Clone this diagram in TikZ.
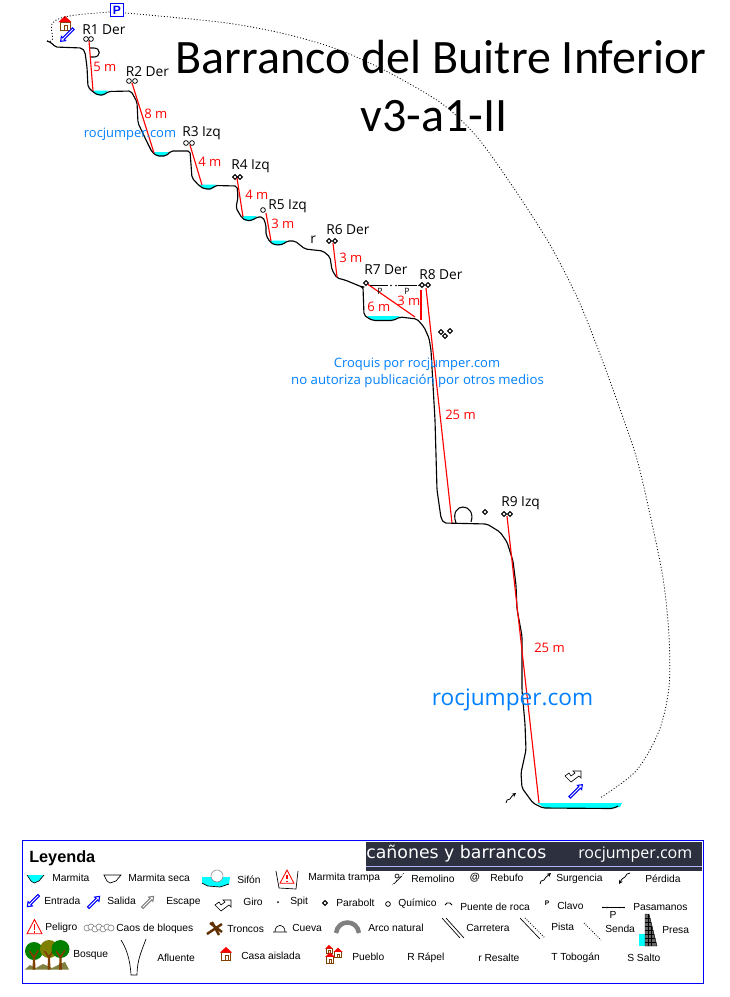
\documentclass[tikz,border=0pt]{standalone}
\usepackage{fontspec}
\setmainfont{Liberation Sans}
\newfontfamily\titlefont{Carlito}
\newfontfamily\labelfont{Open Sans}
\newfontfamily\bannerfont{DejaVu Sans}
\usetikzlibrary{arrows.meta,shapes.geometric}
\definecolor{water}{RGB}{0,255,255}
\definecolor{wmark}{RGB}{0,128,255}
\definecolor{house}{RGB}{128,64,0}
\definecolor{banner}{RGB}{45,48,62}
\definecolor{leaf}{RGB}{0,128,0}
\definecolor{leafb}{RGB}{128,128,0}
\definecolor{scrub}{RGB}{128,128,64}
\tikzset{
  wall/.style={black,line width=.85pt,rounded corners=1.5pt,line join=round},
  rap/.style={red,line width=.85pt},
  anchorc/.style={circle,draw=black,line width=.55pt,minimum size=3.6pt,inner sep=0pt},
  anchord/.style={diamond,draw=black,line width=.8pt,minimum size=3.9pt,inner sep=0pt},
  rlabel/.style={font=\labelfont\fontsize{10.3}{11}\selectfont,anchor=west,inner sep=0pt},
  mlabel/.style={font=\labelfont\fontsize{9.8}{11}\selectfont,text=red,anchor=west,inner sep=0pt},
  wm/.style={font=\labelfont,text=wmark,inner sep=0pt},
  leg/.style={font=\fontsize{7.7}{9}\selectfont,anchor=west,inner sep=0pt},
  thin1/.style={black,line width=.5pt},
  trail/.style={black,line width=.6pt,dash pattern=on .75pt off 1.5pt},
}
\newcommand{\arrowicon}[5]{% colour x y angle length
  \begin{scope}[shift={(#2,#3)},rotate=#4]
    \draw[#1,line width=.8pt,fill=white,line join=miter]
      (-#5,-1.1) -- (#5-4,-1.1) -- (#5-4,-3) -- (#5,0) -- (#5-4,3) -- (#5-4,1.1) -- (-#5,1.1) -- cycle;
  \end{scope}}
\newcommand{\giroicon}[2]{% left tip x y
  \begin{scope}[shift={(#1,#2)}]
    \draw[black,line width=.5pt,line join=miter,fill=white] (0,0) -- (4,-3) -- (6,0) -- (10,-3) -- (8,-5) -- (16,-5) -- (16,2) -- (14,0) -- (6,6) -- cycle;
  \end{scope}}
\newcommand{\houseicon}[3]{% x y scale
  \begin{scope}[shift={(#1,#2)},scale=#3]
    \draw[house,line width=.7pt,fill=white] (-5,-1.5) rectangle (5,7);
    \draw[house,line width=.6pt] (-1,7) -- (-1,1.5) -- (2.5,1.5) -- (2.5,7);
    \fill[red] (-6.5,-1.5) -- (0,-7.5) -- (6.5,-1.5) -- cycle;
  \end{scope}}
\newcommand{\treeicon}[4]{% x y-ground colour crown-centre-y
  \fill[#3] (#1,#4) ellipse (9 and 9);
  \fill[house] (#1-1.4,#2) -- (#1-1.1,#2-12) -- (#1-5,#2-18) -- (#1-4,#2-19) -- (#1,#2-14) -- (#1+4,#2-20) -- (#1+5,#2-19) -- (#1+1.1,#2-12) -- (#1+1.4,#2) -- cycle;}
\newcommand{\warnicon}[3]{% x y size
  \draw[red,line width=.65pt,fill=white,line join=miter] (#1-#3,#2+#3*.9) -- (#1,#2-#3) -- (#1+#3,#2+#3*.9) -- cycle;
  \fill[red] (#1-.9,#2-#3*.35) rectangle (#1+.9,#2+#3*.35);
  \fill[red] (#1-.9,#2+#3*.5) rectangle (#1+.9,#2+#3*.75);}
\begin{document}
\begin{tikzpicture}[x=.75pt,y=-.75pt]
\useasboundingbox (0,0) rectangle (730,997);
\fill[white] (0,0) rectangle (730,997);

% pools
\fill[water] (92,90.5) -- (108,90.5) -- (104,95) -- (97,95) -- cycle;
\fill[water] (153,152) -- (169,152) -- (165,156) -- (157,156) -- cycle;
\fill[water] (199,184.5) -- (216,184.5) -- (212,189) -- (204,189) -- cycle;
\fill[water] (241,216) -- (257,216) -- (252,220.5) -- (245,220.5) -- cycle;
\fill[water] (269,240.5) -- (287,240.5) -- (282,245) -- (274,245) -- cycle;
\fill[water] (367,316) -- (400,316) -- (393,320) -- (372,320) -- cycle;
\fill[water] (537,803) -- (622,803) -- (620,807) -- (613,808) -- (545,808) -- cycle;

% wall
\draw[wall] (47,41) -- (52,43) -- (55,47) -- (82,48) -- (85,52) -- (87,67) -- (88,87) -- (93,92)
  -- (98,95) -- (104,95) -- (108,91.5) -- (131,91) -- (137,102) -- (138,123) -- (147,142) -- (152,152)
  -- (157,156) -- (166,156) -- (171,151) -- (190,151) -- (192,178) -- (200,186.5) -- (205,189) -- (212,189) -- (215,185.5) -- (237,186)
  -- (238,197) -- (236,208) -- (242,218) -- (246,220.5) -- (252,220.5) -- (257,217) -- (263,217) -- (266,225) -- (266,235) -- (270,242)
  -- (275,245) -- (283,244.5) -- (287,241) -- (295,241) -- (305,249) -- (323,251) -- (330,257) -- (332,270) -- (337,278)
  -- (345,280) -- (362,287) -- (363,287) -- (364,315) -- (368,318) -- (373,320.5) -- (393,320.5) -- (400,317) -- (417,319) -- (424,327)
  -- (429,338) -- (431,350) -- (435,420) -- (437,490) -- (441,518) -- (444,523) -- (487,524) -- (500,532) -- (507,542) -- (513,561)
  -- (516,585) -- (517,609) -- (522,636) -- (522,690) -- (525,724) -- (526,750) -- (521,773) -- (522,788) -- (533,803) -- (543,808) -- (613,808.5) -- (618,806);
% boulders
\draw[thin1,line width=.8pt] (90,48) -- (94,48) .. controls (101,48) and (101,57) .. (94,57) -- (91,57);
\draw[thin1,line width=.8pt] (456,523) .. controls (452,512) and (458,507) .. (463,507) .. controls (469,507) and (474,513) .. (471,522);

% anchors
\node[anchorc] (a1a) at (86,39) {}; \node[anchorc] (a1b) at (91,39) {};
\node[anchorc] (a2a) at (129,81) {}; \node[anchorc] (a2b) at (135,81) {};
\node[anchorc] (a3a) at (186,143) {}; \node[anchorc] (a3b) at (192,143) {};
\node[anchord] (a4a) at (235,177) {}; \node[anchord] (a4b) at (240,177) {};
\node[anchorc] (a5) at (263,210) {};
\node[anchord] (a6a) at (329,241) {}; \node[anchord] (a6b) at (335,241) {};
\node[anchord] (a7) at (366,283) {};
\node[anchord] (a8a) at (422,285) {}; \node[anchord] (a8b) at (428,285) {};
\node[anchord] (x1) at (441,332) {}; \node[anchord] (x2) at (445,336) {}; \node[anchord] (x3) at (450,331) {};
\node[anchord] (x4) at (485,512) {};
\node[anchord] (a9a) at (504,514) {}; \node[anchord] (a9b) at (510,514) {};

% rappels
\coordinate (e1) at (93,91); \coordinate (e2) at (154,153); \coordinate (e3) at (202,185);
\coordinate (e4) at (243,217); \coordinate (e5) at (271,241); \coordinate (e6) at (337,277);
\coordinate (e7) at (415,317); \coordinate (s7) at (421,290); \coordinate (e7b) at (421,320);
\coordinate (e8) at (452,523); \coordinate (e9) at (539,803);
\draw[rap] (89,41) -- (e1);
\draw[rap] (132,83) -- (e2);
\draw[rap] (190,145) -- (e3);
\draw[rap] (237,178) -- (e4);
\draw[rap] (266,213) -- (e5);
\draw[rap] (333,243) -- (e6);
\draw[rap] (a7) -- (e7);
\draw[rap] (s7) -- (e7b);
\draw[rap] (426,288) -- (e8);
\draw[rap] (507,516) -- (e9);

% handline
\draw[black,line width=.8pt] (370,285.5) -- (388,285.5);
\draw[black,line width=.8pt] (398,285.5) -- (417,285.5);
\foreach \px in {391,396,419}{\fill (\px,285.5) circle (.8);}

% rope labels
\node[rlabel] (l1) at (82,29.5) {R1 Der};
\node[rlabel] (l2) at (125.5,71.5) {R2 Der};
\node[rlabel] (l3) at (182,133.5) {R3 Izq};
\node[rlabel] (l4) at (231,166.5) {R4 Izq};
\node[rlabel] (l5) at (268,206) {R5 Izq};
\node[rlabel] (l6) at (326,230) {R6 Der};
\node[rlabel] (l7) at (364,270) {R7 Der};
\node[rlabel] (l8) at (419,274.5) {R8 Der};
\node[rlabel] (l9) at (501,503.5) {R9 Izq};
\node[rlabel] (lr) at (310,240) {r};
\node[rlabel,font=\labelfont\fontsize{6.5}{7}\selectfont] (p1) at (377,291.5) {P};
\node[rlabel,font=\labelfont\fontsize{6.5}{7}\selectfont] (p2) at (404,291) {P};

\node[mlabel] (m1) at (93,67) {5 m};
\node[mlabel] (m2) at (144,114) {8 m};
\node[mlabel] (m3) at (198,162) {4 m};
\node[mlabel] (m4) at (245,195) {4 m};
\node[mlabel] (m5) at (271,223.5) {3 m};
\node[mlabel] (m6) at (339,258) {3 m};
\node[mlabel] (m7) at (367,307) {6 m};
\node[mlabel] (m8) at (397,301) {3 m};
\node[mlabel] (m9) at (445,415) {25 m};
\node[mlabel] (m10) at (534,648) {25 m};

% start icons, trail
\houseicon{65}{23.5}{1}
\arrowicon{blue}{67}{35}{225}{9}
\draw[trail] (47,41) .. controls (58,44) and (49,30) .. (52,24) .. controls (56,15) and (85,14) .. (110,12);
\draw[trail] plot[smooth] coordinates {(125,13) (159,16) (227,23) (281,33) (334,48) (384,70) (441,103) (477,137) (513,187) (549,243) (577,297) (595,341) (615,395) (636,456) (649,510) (663,578) (669,636) (669,687) (659,731) (636,771) (600,798)};
\node[draw=blue,line width=.8pt,fill=white,inner sep=0pt,minimum size=9.5pt,font=\bfseries\fontsize{9}{9}\selectfont,text=blue] (parking) at (117,10) {P};
\draw[black,line width=.6pt] (506,803) -- (507,800) -- (510,799) -- (512,796);
\draw[black,line width=.6pt,-{Stealth[length=3pt,width=3pt]}] (512,796) -- (516,793);
\arrowicon{blue}{576}{791}{45}{9}
\giroicon{565}{776}

% title
\node[font=\titlefont\fontsize{36}{42}\selectfont,inner sep=0pt] (t1) at (441,57) {Barranco del Buitre Inferior};
\node[font=\titlefont\fontsize{36}{42}\selectfont,inner sep=0pt] (t2) at (434,116) {v3-a1-II};

% watermarks
\node[wm,font=\labelfont\fontsize{9.7}{11}\selectfont] (w1) at (130,134) {rocjumper.com};
\node[wm,font=\labelfont\fontsize{9.7}{11}\selectfont] (w2) at (417,364) {Croquis por rocjumper.com};
\node[wm,font=\labelfont\fontsize{9.9}{11}\selectfont] (w3) at (417.5,381) {no autoriza publicación por otros medios};
\node[wm,font=\labelfont\fontsize{17}{19}\selectfont] (w4) at (512.5,700) {rocjumper.com};

% legend
\node[draw=blue,line width=.75pt,minimum width=511pt,minimum height=107.5pt,inner sep=0pt,anchor=north west] (legbox) at (22,840) {};
\fill[banner] (366,842) rectangle (702,871);
\draw[white!70!blue,line width=.5pt] (366,866) -- (702,866);
\node[anchor=west,inner sep=0pt,text=white,font=\bannerfont\fontsize{13}{14}\selectfont] (b1) at (366,854) {cañones y barrancos};
\node[anchor=west,inner sep=0pt,text=white,font=\labelfont\fontsize{12}{13}\selectfont] (b2) at (578,855) {rocjumper.com};
\node[anchor=west,inner sep=0pt,font=\bfseries\fontsize{12.2}{13}\selectfont] (leyenda) at (29,858) {Leyenda};

% row 1
\fill[water] (27,875) -- (44,875) -- (39,881) -- (34,883) -- (31,881) -- cycle;
\draw[thin1] (27,875) -- (31,881) -- (34,883) -- (39,881) -- (44,875);
\node[leg] (n1) at (52,878) {Marmita};
\draw[thin1] (104,875) -- (121,875) -- (116,881) -- (110,883) -- (107,881) -- cycle;
\node[leg] (n2) at (128,878) {Marmita seca};
\fill[water] (202,877) -- (230,877) -- (229,884) -- (220,887) -- (208,886) -- (202,883) -- cycle;
\draw[thin1] (202,883) -- (208,886) -- (220,887) -- (229,884);
\draw[gray,fill=white,line width=.4pt] (217,876) circle (6);
\node[leg] (n3) at (237,880) {Sifón};
\draw[thin1] (276,871) -- (279,888) -- (296,889) -- (298,871);
\warnicon{287}{877}{7}
\node[leg] (n4) at (308,878) {Marmita trampa};
\draw[thin1,densely dotted] (392,885) -- (404,873);
\draw[thin1] (397,876) circle (2);
\draw[thin1] (394,884) -- (402,876);
\node[leg] (n5) at (411,879) {Remolino};
\node[leg,font=\bfseries\fontsize{7.7}{9}\selectfont,anchor=center] (n6i) at (475,878) {@};
\node[leg] (n6) at (490,878) {Rebufo};
\draw[thin1,line width=.6pt] (540,884) -- (541,881) -- (544,880) -- (546,877);
\draw[thin1,line width=.6pt,-{Stealth[length=3pt,width=3pt]}] (546,877) -- (551,873);
\node[leg] (n7) at (556,879) {Surgencia};
\draw[thin1,line width=.6pt] (630,873) -- (627,874) -- (625,877) -- (622,879);
\draw[thin1,line width=.6pt,-{Stealth[length=3pt,width=3pt]}] (622,879) -- (619,884);
\node[leg] (n8) at (645,879) {Pérdida};

% row 2
\arrowicon{blue}{33}{901}{225}{8}
\node[leg] (n9) at (44,901) {Entrada};
\arrowicon{blue}{94}{902}{45}{8}
\node[leg] (n10) at (107,901) {Salida};
\arrowicon{gray}{148}{902}{45}{8}
\node[leg] (n11) at (166,902) {Escape};
\giroicon{215}{905}
\node[leg] (n12) at (243,902) {Giro};
\fill (278,902) circle (1);
\node[leg] (n13) at (290,902) {Spit};
\node[anchord] (d14) at (325,903) {};
\node[leg] (n14) at (336,903) {Parabolt};
\node[anchorc] (d15) at (388,904) {};
\node[leg] (n15) at (398,904) {Químico};
\draw[thin1,line width=.6pt] (445,905) -- (447,903) -- (450,903) -- (452,905);
\node[leg] (n16) at (460,907) {Puente de roca};
\node[font=\bfseries\fontsize{5}{5}\selectfont,inner sep=0pt] (n17i) at (547,903) {P};
\node[leg] (n17) at (557,906) {Clavo};
\draw[black,line width=.7pt] (602,907.5) -- (625,907.5);
\foreach \px in {603,607,620,624}{\fill (\px,907.5) circle (.8);}
\node[leg,anchor=center] (n18i) at (613,915) {P};
\node[leg] (n18) at (633,907) {Pasamanos};

% row 3
\warnicon{34.5}{927}{7.5}
\node[leg] (n19) at (45,928) {Peligro};
\foreach \cx/\cy in {87/928,91/927,95/929,99/927,103/929,107/927,111/928}{\draw[gray,line width=.45pt,fill=white] (\cx,\cy) ellipse (3 and 3);}
\node[leg] (n20) at (116,929) {Caos de bloques};
\draw[house!75!black,line width=1.8pt] (207,934) -- (222,924) (210,923) -- (222,932) (212,922) -- (219,935);
\node[leg] (n21) at (227,929) {Troncos};
\draw[thin1] (273,932) -- (287,932) (275,932) .. controls (275,923) and (285,923) .. (285,932);
\node[leg] (n22) at (292,928) {Cueva};
\draw[gray,line width=3.4pt] (336,933) .. controls (338,919) and (357,919) .. (359,933);
\node[leg] (n23) at (368,928) {Arco natural};
\draw[thin1] (442,918) -- (460,938) (446,918) -- (464,938);
\node[leg] (n24) at (466,928) {Carretera};
\draw[thin1] (520,918) -- (540,939);
\draw[trail,dash pattern=on .6pt off 1.2pt] (525,918) -- (545,938);
\node[leg] (n25) at (551,927) {Pista};
\draw[trail,dash pattern=on .6pt off 1.2pt] (584,923) -- (601,940);
\node[leg] (n26) at (605,929) {Senda};
\fill[water] (639,934) rectangle (645,946);
\fill[gray!80!black] (645,914) -- (649,914) -- (657,946) -- (645,946) -- cycle;
\begin{scope}
  \clip (645,914) -- (649,914) -- (657,946) -- (645,946) -- cycle;
  \foreach \ly in {918,922,926,930,934,938,942}{\draw[black,line width=.35pt] (645,\ly) -- (657,\ly);}
  \draw[black,line width=.35pt] (648,914) -- (648,946) (651,926) -- (651,946);
\end{scope}
\draw[black,line width=.35pt] (645,914) -- (649,914) -- (657,946) -- (645,946) -- cycle;
\node[leg] (n27) at (662,930) {Presa};

% row 4
\fill[scrub] (25,969.5) -- (30,965) -- (36,968) -- (43,964) -- (52,968) -- (60,964) -- (65,962) -- (69,969.5) -- cycle;
\treeicon{34}{969.5}{leaf}{951}
\treeicon{49}{969.5}{leafb}{949}
\treeicon{60.5}{969.5}{leaf}{949}
\node[leg] (n28) at (73,955) {Bosque};
\draw[thin1] (121,940) .. controls (126,948) and (130,958) .. (131,975) -- (137,975) .. controls (137,960) and (142,950) .. (146,939);
\node[leg] (n29) at (157,958) {Afluente};
\houseicon{226}{954}{.95}
\node[leg] (n30) at (241,956) {Casa aislada};
\houseicon{329}{949.5}{.6}
\houseicon{338}{953}{.7}
\houseicon{330}{958}{.75}
\node[leg] (n31) at (352,957) {Pueblo};
\node[leg] (n32) at (407,958) {R Rápel};
\node[leg] (n33) at (478,958) {r Resalte};
\node[leg] (n34) at (551,958) {T Tobogán};
\node[leg] (n35) at (627,958) {S Salto};
\end{tikzpicture}
\end{document}
